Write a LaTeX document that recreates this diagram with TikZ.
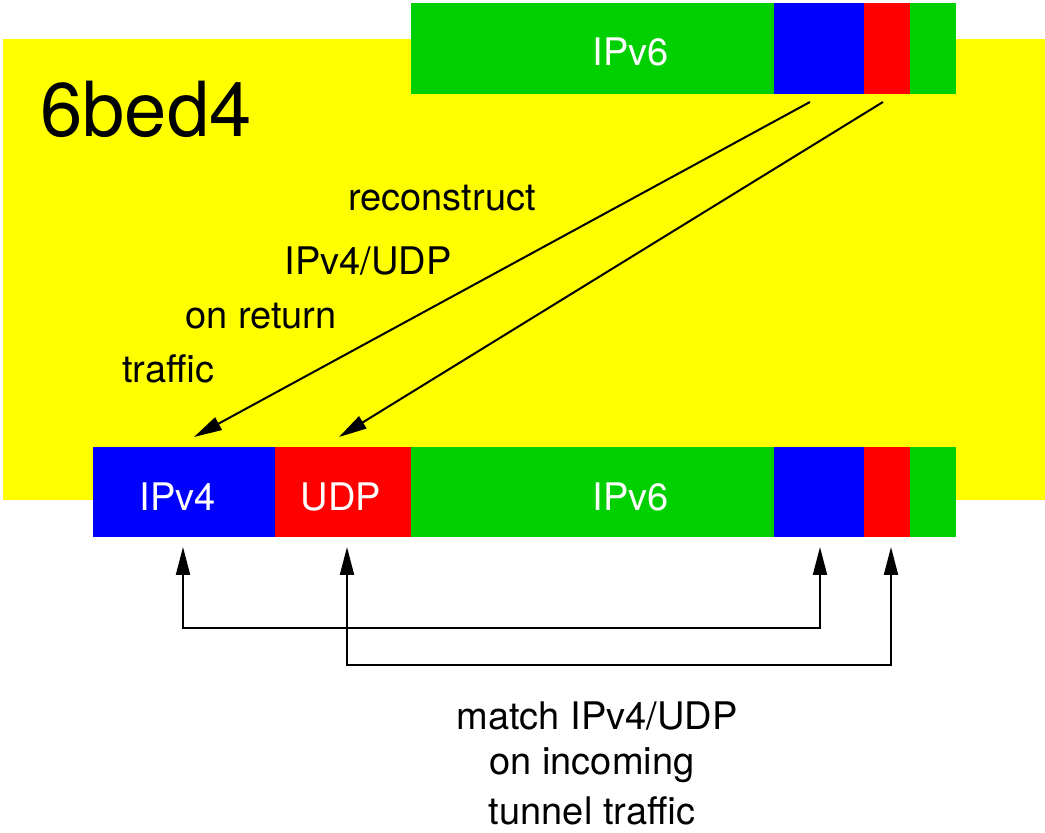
\documentclass[tikz,border=0pt]{standalone}
\usepackage{fontspec}
\setmainfont{TeX Gyre Heros}
\usetikzlibrary{arrows.meta}
\definecolor{pktgreen}{RGB}{0,208,0}
\definecolor{pktblue}{RGB}{0,0,255}
\definecolor{pktred}{RGB}{255,0,0}
\definecolor{boxyellow}{RGB}{255,255,0}
\tikzset{
  lbl/.style={anchor=base, inner sep=0pt, font=\fontsize{19pt}{23pt}\selectfont},
  fieldlbl/.style={lbl, text=white},
  conn/.style={line width=1pt, ->}
}

\begin{document}
\begin{tikzpicture}[x=0.5pt, y=-0.5pt, >={Triangle[length=14pt, width=7pt]}]
    \useasboundingbox (0,0) rectangle (1045,833);
    % 6bed4 box
    \fill[boxyellow] (3,39) rectangle (1045,500);
    \node[anchor=base west, inner sep=0pt, font=\fontsize{38pt}{44pt}\selectfont] (title) at (40,137) {6bed4};
    % upper packet: plain IPv6
    \fill[pktgreen] (411,3) rectangle (774,94);
    \fill[pktblue] (774,3) rectangle (864,94);
    \fill[pktred] (864,3) rectangle (910,94);
    \fill[pktgreen] (910,3) rectangle (956,94);
    \node[fieldlbl] (v6top) at (631,66) {IPv6};
    % lower packet: IPv4/UDP + IPv6
    \fill[pktblue] (93,447) rectangle (275,537);
    \fill[pktred] (275,447) rectangle (411,537);
    \fill[pktgreen] (411,447) rectangle (774,537);
    \fill[pktblue] (774,447) rectangle (864,537);
    \fill[pktred] (864,447) rectangle (910,537);
    \fill[pktgreen] (910,447) rectangle (956,537);
    \node[fieldlbl] (v4) at (178,511) {IPv4};
    \node[fieldlbl] (udp) at (341,511) {UDP};
    \node[fieldlbl] (v6low) at (631,511) {IPv6};
    % reconstruct arrows
    \coordinate (srcaddr) at (810,102);
    \coordinate (srcport) at (883,102);
    \coordinate (dstaddr) at (194,437);
    \coordinate (dstport) at (339,437);
    \draw[conn] (srcaddr) -- (dstaddr);
    \draw[conn] (srcport) -- (dstport);
    \node[lbl] (rc1) at (442,211) {reconstruct};
    \node[lbl] (rc2) at (368,275) {IPv4/UDP};
    \node[lbl] (rc3) at (261,329) {on return};
    \node[lbl] (rc4) at (168,383) {traffic};
    % match arrows
    \coordinate (mv4) at (183,547);
    \coordinate (mudp) at (347,547);
    \coordinate (maddr) at (820,547);
    \coordinate (mport) at (891,547);
    \coordinate (addrlow) at (820,628);
    \coordinate (portlow) at (891,665);
    \draw[conn, <->] (mv4) |- (addrlow) -- (maddr);
    \draw[conn, <->] (mudp) |- (portlow) -- (mport);
    \node[lbl] (mt1) at (597,730) {match IPv4/UDP};
    \node[lbl] (mt2) at (592,775) {on incoming};
    \node[lbl] (mt3) at (592,825) {tunnel traffic};
\end{tikzpicture}
\end{document}
